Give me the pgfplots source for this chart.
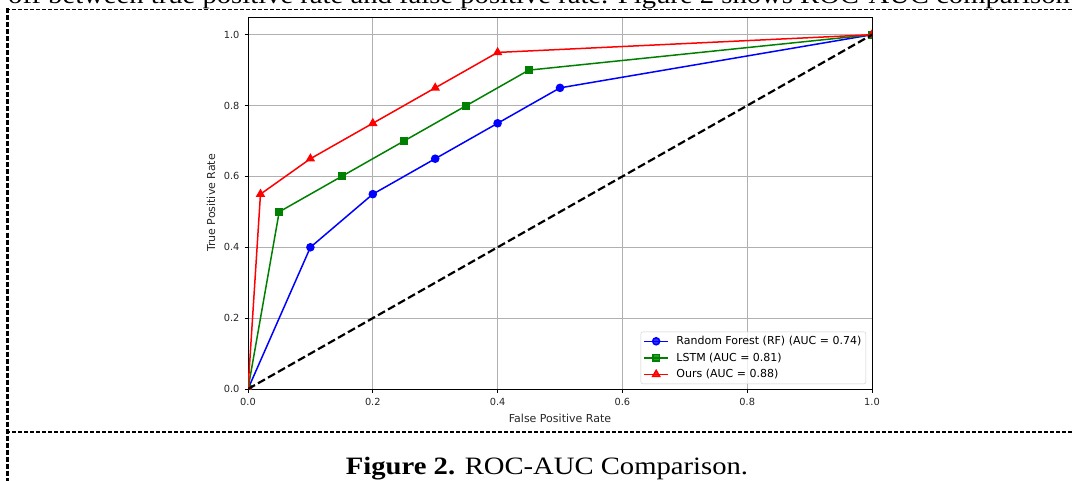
\documentclass[border=0pt]{standalone}
\usepackage{fontspec}
\setmainfont{Liberation Serif}
\newfontfamily\dejavu{DejaVu Sans}
\usepackage{pgfplots}
\pgfplotsset{compat=1.18}

\definecolor{mplgreen}{rgb}{0,0.5,0}
\definecolor{mplgrid}{HTML}{B0B0B0}

\begin{document}
\begin{tikzpicture}
\clip (0pt,-481pt) rectangle (1073pt,0pt);

% page text around the figure
\node[anchor=base west, inner sep=0pt, font=\fontsize{25}{29}\selectfont]
  at (8pt,-4pt) {\scalebox{1.146}[1]{off between true positive rate and false positive rate. Figure 2 shows ROC-AUC comparison}};
\draw[line width=1.8pt, dash pattern=on 4pt off 2pt] (6pt,-9.5pt) -- (1073pt,-9.5pt);
\draw[line width=2.7pt, dash pattern=on 5pt off 2pt] (7.5pt,-8.5pt) -- (7.5pt,-481pt);
\draw[line width=1.8pt, dash pattern=on 4pt off 2pt] (6pt,-432pt) -- (1073pt,-432pt);
\node[anchor=base, inner sep=0pt, font=\fontsize{25}{29}\selectfont]
  at (547pt,-474pt) {\scalebox{1.146}[1]{\textbf{Figure 2.} ROC-AUC Comparison.}};

\begin{axis}[
  at={(248pt,-389pt)}, anchor=south west,
  scale only axis, width=624pt, height=372pt,
  xmin=0, xmax=1, ymin=0, ymax=1.05,
  xtick={0,0.2,0.4,0.6,0.8,1.0},
  ytick={0,0.2,0.4,0.6,0.8,1.0},
  xtick pos=bottom, ytick pos=left,
  tick align=outside, major tick length=3.5pt,
  tick style={black, line width=0.9pt},
  axis line style={black, line width=0.9pt},
  grid=major,
  major grid style={mplgrid, line width=0.8pt},
  /pgf/number format/assume math mode=true,
  /pgf/number format/fixed, /pgf/number format/fixed zerofill,
  /pgf/number format/precision=1,
  tick label style={font=\dejavu\fontsize{9.8}{11}\selectfont, black!85},
  xticklabel style={yshift=-2pt},
  yticklabel style={xshift=-1.5pt},
  label style={font=\dejavu\fontsize{11}{13}\selectfont, black!85},
  xlabel={False Positive Rate},
  ylabel={True Positive Rate},
  xlabel style={at={(axis description cs:0.5,-0.078)}, anchor=center},
  ylabel style={at={(axis description cs:-0.0593,0.5)}, anchor=center},
  clip marker paths=true,
  legend cell align=left,
  legend image code/.code={\draw[mark repeat=2, mark phase=2, #1]
    plot coordinates {(0pt,0pt) (12pt,0pt) (24pt,0pt)};
    \path (29.5pt,0pt);},
  legend style={at={(axis description cs:1,0)}, anchor=south east,
    xshift=-6pt, yshift=5pt, draw=black!20, rounded corners=2pt,
    fill=white, fill opacity=0.8, draw opacity=1, text opacity=1,
    inner xsep=2.5pt, inner ysep=2.5pt, row sep=2.7pt,
    font=\dejavu\fontsize{11}{13}\selectfont},
]

\addplot[blue, line width=1.5pt, mark=*, mark size=3.5pt,
  mark options={solid, fill=blue, draw=blue}]
  coordinates {(0,0) (0.1,0.4) (0.2,0.55) (0.3,0.65) (0.4,0.75) (0.5,0.85) (1,1)};
\addlegendentry{Random Forest (RF) (AUC = 0.74)}

\addplot[mplgreen, line width=1.5pt, mark=square*, mark size=3.3pt,
  mark options={solid, fill=mplgreen, draw=mplgreen}]
  coordinates {(0,0) (0.05,0.5) (0.15,0.6) (0.25,0.7) (0.35,0.8) (0.45,0.9) (1,1)};
\addlegendentry{LSTM (AUC = 0.81)}

\addplot[red, line width=1.5pt, mark=triangle*, mark size=4pt,
  mark options={solid, fill=red, draw=red}]
  coordinates {(0,0) (0.02,0.55) (0.1,0.65) (0.2,0.75) (0.3,0.85) (0.4,0.95) (1,1)};
\addlegendentry{Ours (AUC = 0.88)}

\addplot[black, line width=2.2pt, dash pattern=on 8pt off 3.5pt, forget plot]
  coordinates {(0,0) (1,1)};

\end{axis}
\end{tikzpicture}
\end{document}
